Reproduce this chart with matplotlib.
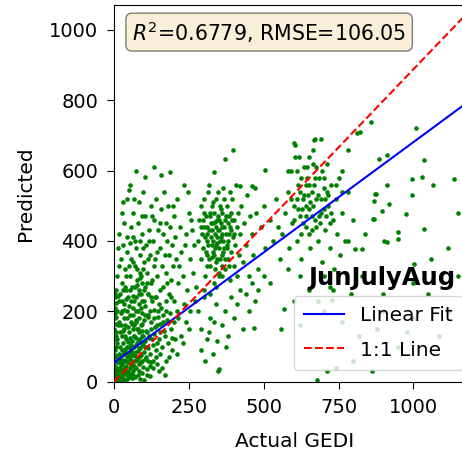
import matplotlib
matplotlib.use("Agg")
import matplotlib.pyplot as plt
import numpy as np

# stats shown on the chart
r2 = 0.6779
rmse = 106.05
fit_slope = 0.627
fit_intercept = 54

# (actual GEDI, predicted) pairs, grouped by region
near_origin = [
    (2, 5), (5, 12), (8, 3), (10, 20), (12, 8), (15, 30), (18, 15), (20, 40), (22, 10), (25, 25),
    (28, 50), (30, 18), (32, 35), (35, 60), (38, 28), (40, 45), (42, 70), (45, 20), (48, 55), (50, 80),
    (52, 38), (55, 65), (58, 90), (60, 48), (62, 75), (65, 30), (68, 100), (70, 58), (72, 85), (75, 40),
    (78, 110), (80, 68), (82, 95), (85, 50), (88, 120), (90, 75), (92, 105), (95, 60), (98, 130), (100, 85),
    (105, 115), (108, 70), (110, 140), (115, 95), (118, 125), (120, 80), (125, 150), (130, 105), (135, 135),
    (140, 90), (145, 160), (150, 120), (1, 60), (2, 90), (3, 120), (1, 150), (4, 180), (2, 210), (3, 240),
    (5, 260), (6, 100), (3, 30), (8, 70), (7, 140), (10, 200), (12, 160), (9, 110), (4, 45), (15, 80),
    (18, 55), (20, 100), (25, 130), (25, 75), (30, 110), (33, 90), (35, 150), (38, 5), (40, 120), (42, 8),
    (45, 100), (50, 140), (52, 15), (55, 125), (58, 170), (60, 10), (62, 150), (65, 190), (68, 130), (70, 12),
    (72, 170), (75, 200), (80, 150), (82, 30), (85, 180), (88, 8), (90, 210), (95, 165), (100, 230), (105, 190),
    (110, 35), (112, 250), (120, 200), (122, 55), (128, 230), (130, 60), (135, 180), (140, 240), (148, 200),
    (155, 140), (160, 100), (165, 170), (170, 130), (175, 60), (180, 110), (190, 150), (195, 90), (200, 170),
    (205, 120), (210, 200), (160, 40), (170, 20), (150, 30), (120, 15), (100, 5), (110, 20), (95, 25),
    (130, 40), (140, 70), (185, 70), (210, 80), (225, 130), (240, 170), (230, 110), (250, 150), (155, 80),
    (145, 50), (15, 5), (28, 8), (48, 30), (58, 22), (66, 45), (78, 62), (86, 72), (96, 42), (104, 98),
    (112, 60), (24, 62), (36, 85), (46, 112), (56, 105), (64, 60), (74, 125), (84, 140), (94, 145), (6, 35),
]

origin_dense = [
    (3, 15), (6, 25), (9, 40), (11, 55), (14, 20), (16, 65), (19, 35), (21, 75), (23, 48), (26, 90),
    (29, 62), (31, 8), (34, 78), (36, 40), (39, 95), (41, 58), (43, 25), (46, 82), (49, 12), (51, 100),
    (53, 70), (56, 45), (59, 115), (61, 85), (63, 18), (66, 130), (69, 72), (71, 40), (73, 105), (76, 150),
    (79, 88), (81, 20), (83, 118), (86, 95), (89, 160), (91, 55), (93, 130), (97, 110), (99, 175), (102, 65),
    (106, 145), (109, 100), (113, 190), (116, 130), (119, 45), (123, 170), (127, 120), (133, 205), (137, 155),
    (142, 110), (147, 185), (152, 165), (157, 210), (162, 190), (167, 145), (172, 230), (178, 175), (186, 195),
    (193, 125), (1, 5), (2, 35), (4, 75), (5, 130), (7, 165), (3, 195), (6, 225), (2, 250), (8, 185),
    (11, 120), (13, 245), (17, 170), (19, 140), (22, 195), (24, 160), (27, 230), (29, 145), (31, 260),
    (34, 205), (37, 130), (39, 235), (43, 180), (47, 155), (51, 215), (54, 260), (57, 230), (63, 245),
    (67, 160), (73, 240), (77, 275), (83, 260), (87, 295), (93, 280), (97, 320),
]

left_band = [
    (10, 300), (15, 420), (20, 250), (22, 350), (25, 480), (28, 280), (30, 390), (33, 220), (35, 450), (38, 320),
    (40, 260), (42, 520), (45, 370), (48, 240), (51, 544), (52, 300), (55, 560), (58, 350), (60, 270), (62, 410),
    (65, 480), (68, 230), (70, 330), (72, 600), (75, 380), (78, 290), (80, 450), (82, 250), (85, 510), (88, 360),
    (90, 300), (92, 420), (95, 230), (98, 540), (100, 340), (102, 270), (104, 582), (105, 470), (108, 390),
    (110, 310), (115, 250), (118, 430), (120, 360), (122, 500), (125, 280), (132, 610), (130, 400), (132, 330),
    (135, 460), (138, 240), (140, 520), (142, 370), (145, 300), (148, 430), (157, 587), (152, 260), (155, 380),
    (158, 490), (160, 330), (162, 420), (165, 270), (168, 540), (170, 360), (172, 450), (175, 310), (178, 400),
    (180, 500), (182, 250), (185, 360), (188, 596), (188, 440), (190, 290), (195, 390), (198, 330), (200, 470),
    (202, 230), (205, 410), (208, 350), (210, 520), (215, 280), (220, 440), (225, 370), (230, 300), (235, 560),
    (240, 420), (245, 260), (250, 480), (255, 350), (260, 430), (265, 310), (270, 230), (32, 180), (45, 200),
    (55, 190), (65, 210), (75, 175), (85, 220), (95, 195), (105, 215), (115, 185), (125, 240), (38, 160),
    (60, 165), (80, 200), (100, 260), (50, 330), (70, 270), (90, 250), (110, 280), (25, 200), (15, 230),
    (40, 300), (62, 340), (88, 310), (112, 350), (70, 400), (96, 380), (58, 440), (44, 410), (128, 290),
    (150, 220), (175, 200), (190, 240), (215, 180), (235, 220), (255, 200), (275, 270), (268, 390), (248, 540),
    (18, 330), (36, 270), (54, 395), (76, 320), (94, 470), (116, 400), (136, 350), (154, 450), (176, 280),
    (196, 500), (218, 330), (238, 390), (258, 460), (12, 380), (30, 510), (66, 520), (86, 400), (126, 470),
]

center_blob = [
    (280, 400), (285, 460), (290, 350), (292, 500), (295, 420), (298, 380), (300, 440), (302, 520), (305, 300),
    (308, 470), (310, 400), (312, 360), (315, 540), (318, 430), (320, 480), (322, 330), (325, 410), (328, 500),
    (330, 370), (332, 450), (335, 280), (338, 420), (333, 596), (342, 390), (345, 350), (348, 470), (350, 430),
    (352, 310), (355, 400), (358, 490), (360, 360), (362, 440), (365, 550), (368, 380), (370, 460), (372, 320),
    (375, 420), (378, 500), (380, 350), (382, 400), (385, 470), (388, 290), (390, 430), (392, 370), (395, 520),
    (398, 410), (400, 330), (402, 460), (405, 390), (408, 560), (410, 440), (412, 300), (415, 480), (418, 360),
    (420, 420), (425, 500), (430, 340), (435, 450), (440, 390), (445, 530), (450, 300), (455, 470), (460, 420),
    (465, 360), (470, 550), (475, 480), (480, 320), (490, 440), (500, 500), (505, 380), (504, 601), (520, 460),
    (530, 400), (540, 520), (548, 440), (555, 350), (330, 400), (340, 440), (350, 380), (360, 420), (345, 460),
    (355, 500), (335, 360), (365, 400), (325, 450), (315, 390), (305, 410), (370, 350), (380, 450), (360, 330),
    (350, 300), (340, 270), (320, 250), (300, 260), (310, 330), (395, 460), (371, 634), (399, 658), (340, 520),
    (318, 560), (386, 540), (420, 555), (462, 555), (300, 480), (290, 440), (310, 440), (328, 430), (344, 410),
    (356, 450), (376, 380), (388, 440), (402, 420), (318, 350), (336, 320), (362, 300), (384, 330),
    (322, 470), (326, 390), (334, 480), (338, 380), (346, 430), (352, 460), (358, 410), (364, 370), (368, 440),
    (374, 470), (342, 340), (354, 350), (330, 510), (348, 540), (366, 520), (312, 420), (306, 370), (296, 460),
    (384, 420), (392, 480), (378, 390), (336, 455), (326, 355), (362, 480), (344, 395),
]

below_fit = [
    (280, 200), (290, 150), (300, 240), (310, 120), (320, 180), (330, 80), (340, 220), (349, 29), (352, 37),
    (360, 160), (370, 200), (380, 130), (390, 240), (400, 180), (410, 220), (420, 260), (430, 150), (440, 250),
    (450, 200), (460, 280), (470, 230), (480, 260), (500, 300), (520, 280), (290, 90), (305, 60), (375, 100),
    (467, 153), (345, 115), (318, 140), (335, 170),
]

right_cluster = [
    (560, 420), (570, 480), (580, 540), (585, 380), (590, 600), (595, 450), (600, 500), (605, 640), (610, 400),
    (615, 560), (620, 470), (625, 350), (630, 520), (635, 610), (640, 440), (645, 580), (650, 490), (655, 380),
    (660, 540), (665, 660), (670, 460), (675, 520), (680, 400), (685, 580), (690, 480), (695, 340), (700, 550),
    (705, 430), (710, 620), (715, 500), (720, 380), (725, 560), (730, 460), (735, 320), (740, 520), (745, 420),
    (750, 580), (755, 360), (760, 480), (770, 400), (620, 540), (640, 500), (660, 470), (680, 530), (700, 490),
    (650, 560), (630, 450), (690, 520), (670, 580), (610, 520), (600, 460), (720, 450), (710, 540), (660, 430),
    (645, 610), (600, 680), (580, 600), (650, 640), (690, 690), (740, 560), (760, 540), (580, 320), (620, 300),
    (700, 300), (730, 260), (680, 230), (606, 672), (667, 687), (672, 690), (625, 580), (655, 510), (675, 610),
    (695, 600), (615, 490), (635, 530), (665, 500), (705, 520), (725, 480), (590, 520), (640, 560),
    (612, 600), (628, 490), (648, 530), (668, 560), (688, 450), (708, 470), (626, 420), (652, 420), (684, 470),
    (700, 580), (618, 640), (664, 620), (642, 470), (676, 440), (716, 530),
]

sparse_right = [
    (780, 400), (804, 377), (829, 377), (780, 658), (813, 706), (822, 710), (860, 737), (874, 534), (869, 515),
    (869, 463), (894, 484), (913, 644), (913, 396), (949, 406), (950, 425), (975, 477), (997, 530), (997, 577),
    (1003, 334), (1008, 720), (1030, 582), (1036, 434), (1036, 629), (1064, 560), (1117, 379), (1137, 577),
    (885, 634), (919, 506), (911, 558), (864, 463), (871, 535), (901, 400), (1087, 129), (863, 29), (712, 29),
    (679, 6), (729, 232), (567, 208), (559, 151), (780, 540), (760, 600), (800, 460), (840, 420), (830, 300),
    (790, 250), (900, 250), (1000, 280), (1060, 350), (1150, 480), (720, 270), (700, 200), (760, 170),
    (880, 150), (820, 130), (950, 100), (1000, 180), (650, 260), (600, 230), (620, 160), (800, 60), (740, 40),
    (900, 200), (1050, 250), (1120, 200), (980, 140), (1150, 300),
]

groups = [near_origin, origin_dense, left_band, center_blob, below_fit, right_cluster, sparse_right]
pts = np.array([p for g in groups for p in g], dtype=float)
actual = pts[:, 0]
predicted = pts[:, 1]

plt.rcParams["font.size"] = 14

fig = plt.figure(figsize=(4.62, 4.54), dpi=100)
# the right part of the axes runs past the figure edge, as in the reference crop
ax = fig.add_axes([0.2468, 0.1593, 0.7814, 0.8297])

ax.scatter(actual, predicted, s=11, color="green", linewidths=0, zorder=2)

xs = np.array([0, 1300])
ax.plot(xs, fit_slope * xs + fit_intercept, color="blue", lw=1.5, label="Linear Fit", zorder=3)
ax.plot([0, 1], [0, 1], color="red", ls="--", lw=1.5, label="1:1 Line",
        transform=ax.transAxes, zorder=3)

ax.set_xlim(0, 1206)
ax.set_ylim(0, 1071)
ax.set_xticks([0, 250, 500, 750, 1000])
ax.set_yticks([0, 200, 400, 600, 800, 1000])
ax.tick_params(length=5, pad=6.5)
ax.set_xlabel("Actual GEDI", fontsize=14.5, labelpad=11)
ax.set_ylabel("Predicted", fontsize=14.5, labelpad=10)

ax.text(0.05, 0.962, f"$R^2$={r2:.4f}, RMSE={rmse:.2f}", transform=ax.transAxes,
        fontsize=14.8, va="top", ha="left",
        bbox=dict(boxstyle="round", facecolor="wheat", alpha=0.5))

ax.legend(loc="lower right", fontsize=14.5, labelspacing=0.75, borderpad=0.5,
          borderaxespad=0.6)
ax.text((455 - 114) / 361, (381.7 - 290) / 376.7, "JunJulyAug", transform=ax.transAxes,
        ha="right", va="bottom", fontsize=17.5, fontweight="bold")

fig.savefig("out.png", dpi=100)
